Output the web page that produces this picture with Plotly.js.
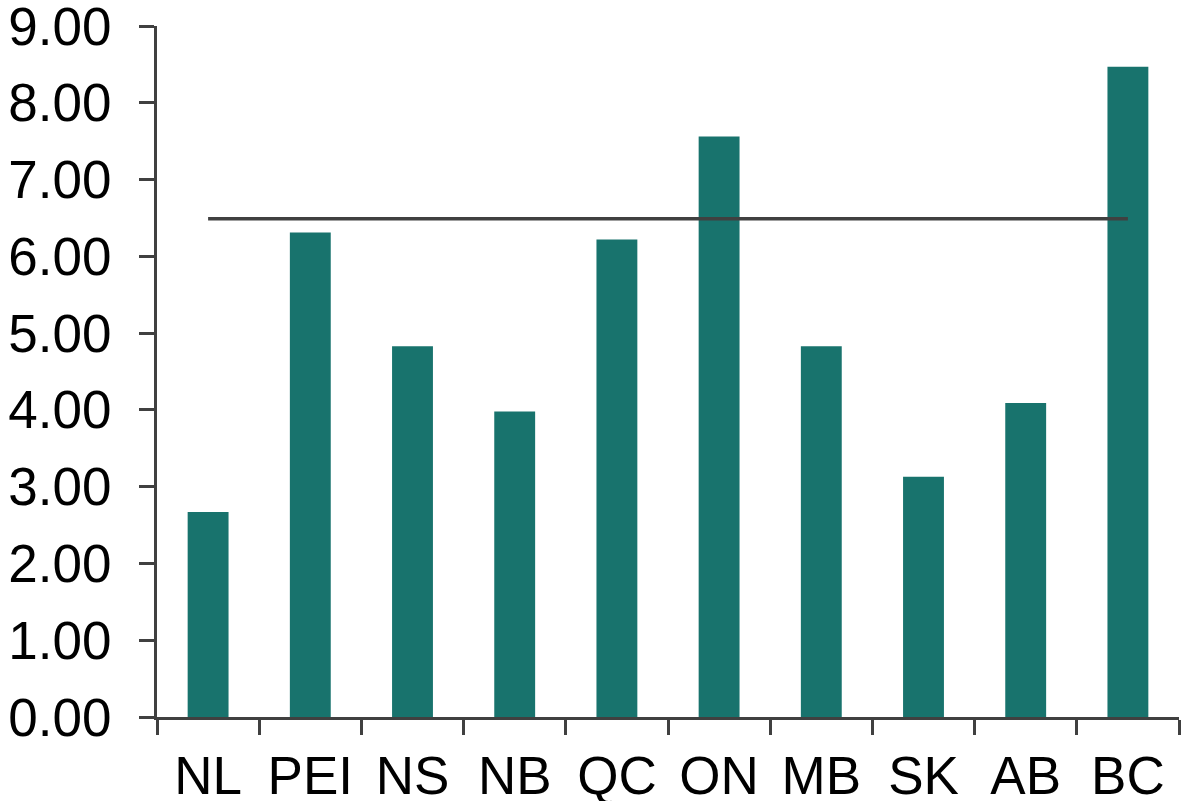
<!DOCTYPE html>
<html>
<head>
<meta charset="utf-8">
<script src="https://cdn.plot.ly/plotly-3.0.1.min.js"></script>
<style>
  html, body { margin: 0; padding: 0; background: #ffffff; }
  #chart { width: 1184px; height: 801px; }
</style>
</head>
<body>
<div id="chart"></div>
<script>
// Provinces along the x axis
const provinces = ['NL', 'PEI', 'NS', 'NB', 'QC', 'ON', 'MB', 'SK', 'AB', 'BC'];
// Value for each province
const values = [2.67, 6.31, 4.83, 3.98, 6.22, 7.56, 4.83, 3.13, 4.09, 8.47];
// Reference level drawn across all provinces
const averageLevel = 6.49;
const averageLine = provinces.map(() => averageLevel);

const yTicks = [0, 1, 2, 3, 4, 5, 6, 7, 8, 9];
const yTickText = yTicks.map(v => v.toFixed(2));

const axisColor = '#404040';
const font = { family: 'Liberation Sans, Arial, sans-serif', size: 53, color: '#000000' };

const traces = [
  {
    type: 'bar',
    x: provinces,
    y: values,
    width: 0.4,
    marker: { color: '#18736d', line: { width: 0 } },
    hoverinfo: 'x+y'
  },
  {
    type: 'scatter',
    mode: 'lines',
    x: provinces,
    y: averageLine,
    line: { color: axisColor, width: 3.5 },
    hoverinfo: 'y'
  }
];

const layout = {
  width: 1184,
  height: 801,
  margin: { l: 157, r: 5, t: 26, b: 84 },
  paper_bgcolor: '#ffffff',
  plot_bgcolor: '#ffffff',
  showlegend: false,
  font: font,
  bargap: 0.6,
  xaxis: {
    type: 'category',
    range: [-0.5, 9.5],
    showgrid: false,
    zeroline: false,
    showline: true,
    linecolor: axisColor,
    linewidth: 3,
    ticks: 'outside',
    tickson: 'boundaries',
    ticklen: 15,
    tickwidth: 3,
    tickcolor: axisColor,
    tickfont: font,
    ticklabelstandoff: 10,
    ticklabeloverflow: 'allow',
    fixedrange: true
  },
  yaxis: {
    range: [0, 9],
    tickvals: yTicks,
    ticktext: yTickText,
    showgrid: false,
    zeroline: false,
    showline: true,
    linecolor: axisColor,
    linewidth: 3,
    ticks: 'outside',
    ticklen: 15,
    tickwidth: 3,
    tickcolor: axisColor,
    tickfont: font,
    ticklabelstandoff: 17,
    ticklabeloverflow: 'allow',
    fixedrange: true
  }
};

Plotly.newPlot('chart', traces, layout, { displayModeBar: false, staticPlot: true });
</script>
</body>
</html>
